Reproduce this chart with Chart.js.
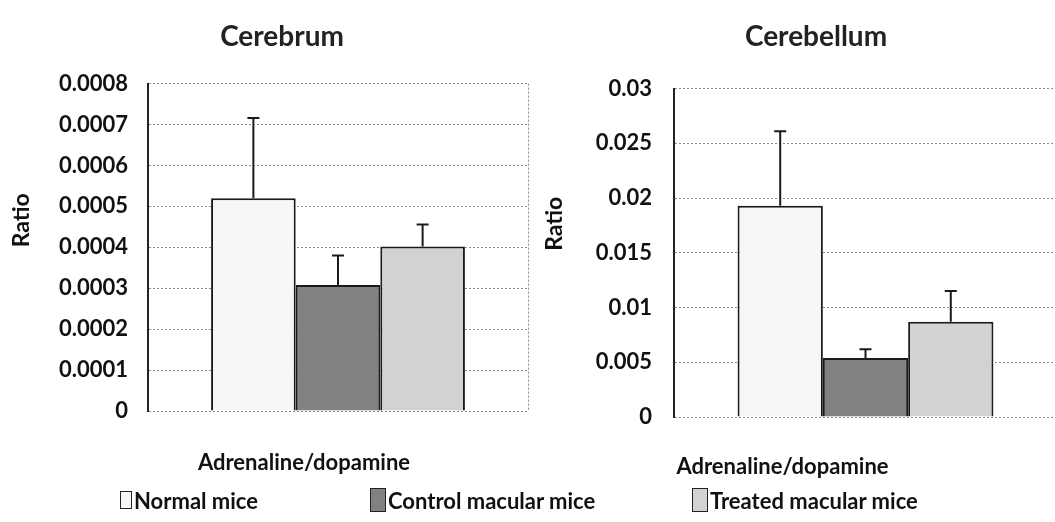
<!DOCTYPE html>
<html>
<head>
<meta charset="utf-8">
<script src="https://cdn.jsdelivr.net/npm/chart.js@4.4.0/dist/chart.umd.min.js"></script>
<style>
    html, body { margin: 0; padding: 0; background: #fff; overflow: hidden; }
    body { width: 1055px; height: 522px; position: relative; }
    .panel { position: absolute; top: 0; }
    #legend { position: absolute; left: 0; top: 486px; width: 1055px; height: 30px;
        font-family: 'Lato', sans-serif; font-weight: bold; font-size: 22px; color: #111; }
    .item { position: absolute; top: 0; display: flex; align-items: center; height: 28px; }
    .box { display: inline-block; border: 1px solid #222; margin-right: 2px; box-sizing: border-box; }
</style>
</head>
<body>
<div class="panel" style="left:0px;"><canvas id="chart-cerebrum" width="564" height="490"></canvas></div>
<div class="panel" style="left:520px;"><canvas id="chart-cerebellum" width="590" height="490"></canvas></div>
<div id="legend"></div>

<script>
// Values
const groups = ['Normal mice', 'Control macular mice', 'Treated macular mice'];
const category = ['Adrenaline/dopamine'];

const cerebrumMeans = [0.00052, 0.000308, 0.000402];
const cerebrumErrors = [0.000196, 0.000072, 0.000054];
const cerebrumTicks = ['0', '0.0001', '0.0002', '0.0003', '0.0004', '0.0005', '0.0006', '0.0007', '0.0008'];

const cerebellumMeans = [0.0193, 0.0054, 0.0087];
const cerebellumErrors = [0.0068, 0.0008, 0.0028];
const cerebellumTicks = ['0', '0.005', '0.01', '0.015', '0.02', '0.025', '0.03'];

const groupColors = ['#f7f7f7', '#828282', '#d2d2d2'];

// Upward-only error bars with a small cap
const errorBars = {
    id: 'errorBars',
    afterDatasetsDraw(chart, args, opts) {
        const ctx = chart.ctx;
        const yScale = chart.scales.y;
        ctx.save();
        ctx.strokeStyle = '#1a1a1a';
        ctx.lineWidth = 2;
        chart.data.datasets.forEach((ds, i) => {
            const bar = chart.getDatasetMeta(i).data[0];
            if (!bar) return;
            const top = yScale.getPixelForValue(ds.data[0] + opts.errors[i]);
            ctx.beginPath();
            ctx.moveTo(bar.x, bar.y);
            ctx.lineTo(bar.x, top);
            ctx.moveTo(bar.x - 6, top);
            ctx.lineTo(bar.x + 6, top);
            ctx.stroke();
        });
        ctx.restore();
    }
};

// "Ratio" sits above the middle of the axis in the original, so draw it here
const axisLabel = {
    id: 'axisLabel',
    afterDraw(chart, args, opts) {
        const ctx = chart.ctx;
        const area = chart.chartArea;
        ctx.save();
        ctx.translate(opts.x, (area.top + area.bottom) / 2 + opts.shift);
        ctx.rotate(-Math.PI / 2);
        ctx.font = "bold 23px 'Lato', sans-serif";
        ctx.fillStyle = '#111';
        ctx.textAlign = 'center';
        ctx.textBaseline = 'middle';
        ctx.fillText(opts.text, 0, 0);
        ctx.restore();
    }
};

Chart.defaults.font.family = "'Lato', sans-serif";
Chart.defaults.font.weight = 'bold';
Chart.defaults.color = '#111';

function makeChart(canvasId, cfg) {
    return new Chart(document.getElementById(canvasId), {
        type: 'bar',
        data: {
            labels: category,
            datasets: groups.map((g, i) => ({
                label: g,
                data: [cfg.means[i]],
                backgroundColor: groupColors[i],
                borderColor: '#1a1a1a',
                borderWidth: 2,
                barPercentage: 1,
                categoryPercentage: 0.668
            }))
        },
        options: {
            responsive: false,
            animation: false,
            layout: { padding: cfg.padding },
            plugins: {
                legend: { display: false },
                tooltip: { enabled: false },
                title: {
                    display: true,
                    text: cfg.title,
                    color: '#222',
                    font: { size: 28, weight: 'bold' },
                    padding: { top: 20, bottom: cfg.titleGap }
                },
                errorBars: { errors: cfg.errors },
                axisLabel: { text: 'Ratio', x: cfg.labelX, shift: cfg.labelShift }
            },
            scales: {
                x: {
                    grid: { display: true, drawTicks: false, color: '#8a8a8a', lineWidth: 1 },
                    border: { display: false, dash: [2, 2] },
                    ticks: { padding: cfg.xPad, labelOffset: cfg.labelOffset, font: { size: 22 } },
                    afterFit: s => { s.height = cfg.xHeight; }
                },
                y: {
                    min: 0,
                    max: cfg.max,
                    ticks: {
                        stepSize: cfg.step,
                        padding: cfg.tickPad,
                        font: { size: 22 },
                        callback: (v, idx) => cfg.ticks[idx]
                    },
                    grid: { drawTicks: false, color: '#8a8a8a', lineWidth: 1 },
                    border: { display: true, color: '#222', width: 2, dash: [2, 2] },
                    afterFit: s => { s.width = cfg.yWidth; }
                }
            }
        },
        plugins: [errorBars, axisLabel]
    });
}

makeChart('chart-cerebrum', {
    title: 'Cerebrum',
    means: cerebrumMeans,
    errors: cerebrumErrors,
    ticks: cerebrumTicks,
    max: 0.0008,
    step: 0.0001,
    padding: { left: 36, right: 36, bottom: 0 },
    titleGap: 30,
    yWidth: 112,
    tickPad: 20,
    xHeight: 79,
    xPad: 39,
    labelOffset: -34,
    labelX: 22,
    labelShift: -27
});

makeChart('chart-cerebellum', {
    title: 'Cerebellum',
    means: cerebellumMeans,
    errors: cerebellumErrors,
    ticks: cerebellumTicks,
    max: 0.03,
    step: 0.005,
    padding: { left: 55, right: 53, bottom: 0 },
    titleGap: 35,
    yWidth: 99,
    tickPad: 22,
    xHeight: 73,
    xPad: 37,
    labelOffset: -83,
    labelX: 35,
    labelShift: -29
});

// Shared legend under both panels
const legendPos = [
    { x: 120, w: 12, h: 18 },
    { x: 370, w: 16, h: 24 },
    { x: 692, w: 16, h: 24 }
];
const legend = document.getElementById('legend');
groups.forEach((g, i) => {
    const item = document.createElement('div');
    item.className = 'item';
    item.style.left = legendPos[i].x + 'px';
    const box = document.createElement('span');
    box.className = 'box';
    box.style.width = legendPos[i].w + 'px';
    box.style.height = legendPos[i].h + 'px';
    box.style.background = groupColors[i];
    const label = document.createElement('span');
    label.textContent = g;
    item.appendChild(box);
    item.appendChild(label);
    legend.appendChild(item);
});
</script>
</body>
</html>
